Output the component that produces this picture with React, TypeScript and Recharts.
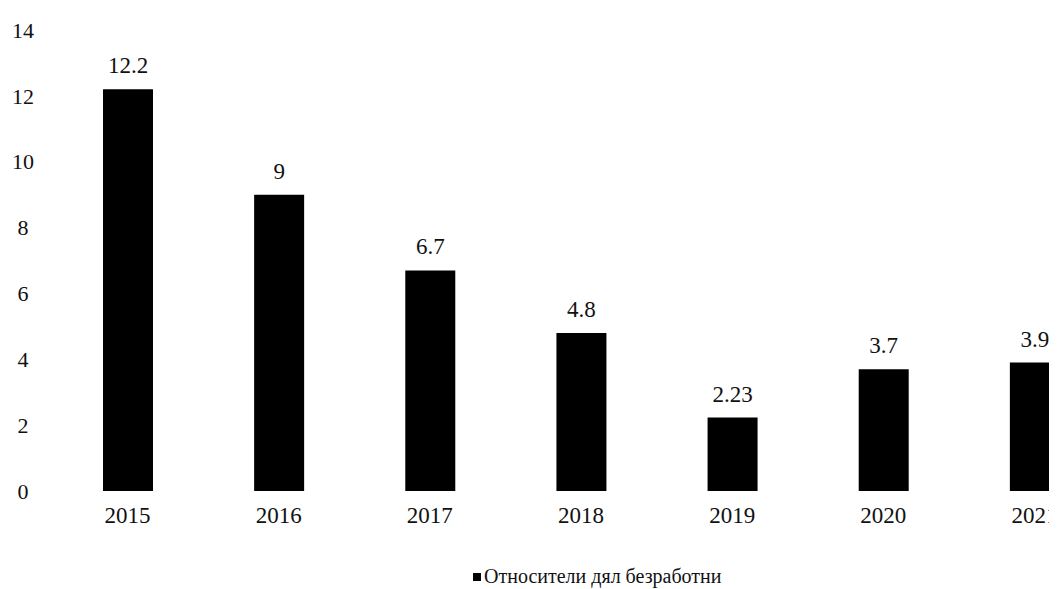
import { BarChart, Bar, XAxis, YAxis, LabelList, Legend } from "recharts";

const years = ["2015", "2016", "2017", "2018", "2019", "2020", "2021"];
const shares = [12.2, 9, 6.7, 4.8, 2.23, 3.7, 3.9];
const yTicks = [0, 2, 4, 6, 8, 10, 12, 14];

const SERIES_NAME = "Относители дял безработни";
const FONT = "Liberation Serif, Times New Roman, Tinos, DejaVu Serif, Noto Serif, serif";

const data = years.map((year, i) => ({ year, value: shares[i] }));

function YTick(props: any) {
  const { y, payload } = props;
  return (
    <text x={15} y={y} dy="0.35em" textAnchor="middle" fontSize={22} fill="#111" style={{ fontFamily: FONT }}>
      {payload.value}
    </text>
  );
}

function LegendContent() {
  return (
    <div style={{ display: "flex", alignItems: "center", fontFamily: FONT, fontSize: 20, color: "#111" }}>
      <span style={{ display: "inline-block", width: 8, height: 8, background: "#000", marginRight: 3 }} />
      {SERIES_NAME}
    </div>
  );
}

export default function App() {
  return (
    <div style={{ width: 1049, height: 581, overflow: "hidden", background: "#fff", fontFamily: FONT }}>
      <BarChart
        width={1102}
        height={581}
        data={data}
        margin={{ top: 22, right: 0, left: 0, bottom: 45 }}
        style={{ fontFamily: FONT }}
      >
        <YAxis
          width={44}
          domain={[0, 14]}
          ticks={yTicks}
          axisLine={false}
          tickLine={false}
          tick={<YTick />}
        />
        <XAxis
          dataKey="year"
          axisLine={false}
          tickLine={false}
          tickMargin={10}
          tick={{ fontSize: 23, fill: "#111", style: { fontFamily: FONT } }}
        />
        <Legend
          content={<LegendContent />}
          wrapperStyle={{ top: 557, left: 465, width: "auto" }}
        />
        <Bar dataKey="value" name={SERIES_NAME} fill="#000" barSize={50} isAnimationActive={false}>
          <LabelList
            dataKey="value"
            position="top"
            offset={16}
            style={{ fontSize: 23, fill: "#111", fontFamily: FONT }}
          />
        </Bar>
      </BarChart>
    </div>
  );
}
